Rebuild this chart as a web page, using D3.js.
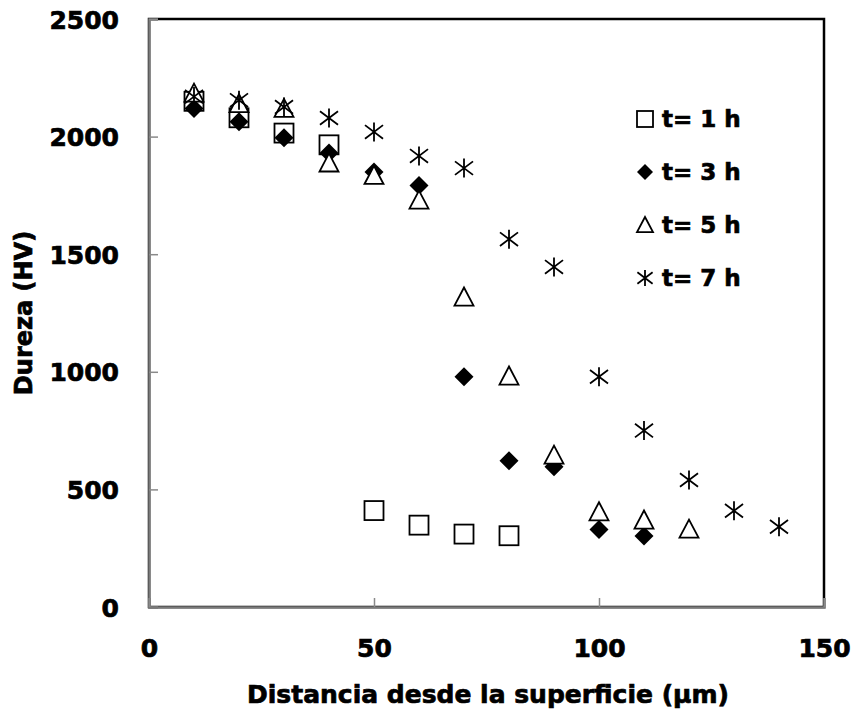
<!DOCTYPE html>
<html>
<head>
<meta charset="utf-8">
<script src="https://cdn.jsdelivr.net/npm/d3@7"></script>
<style>
  body { margin: 0; background: #fff; }
  text { font-family: "DejaVu Sans", sans-serif; font-weight: bold; fill: #000; stroke: #000; stroke-width: 0.7px; }
</style>
</head>
<body>
<svg id="chart" width="854" height="713"></svg>
<script>
// distancia (µm) y dureza (HV) para cada tiempo
const dist1 = [10, 20, 30, 40, 50, 60, 70, 80];
const hv1 = [2150, 2080, 2015, 1965, 410, 348, 310, 303];

const dist3 = [10, 20, 30, 40, 50, 60, 70, 80, 90, 100, 110];
const hv3 = [2120, 2063, 1995, 1930, 1850, 1792, 979, 622, 596, 330, 302];

const dist5 = [10, 20, 30, 40, 50, 60, 70, 80, 90, 100, 110, 120];
const hv5 = [2185, 2140, 2120, 1888, 1835, 1730, 1318, 982, 646, 405, 370, 331];

const dist7 = [10, 20, 30, 40, 50, 60, 70, 80, 90, 100, 110, 120, 130, 140];
const hv7 = [2170, 2155, 2126, 2079, 2020, 1918, 1866, 1564, 1446, 979, 750, 540, 409, 341];

const seriesNames = ['t= 1 h', 't= 3 h', 't= 5 h', 't= 7 h'];
const markerTypes = ['square', 'diamond', 'triangle', 'star'];
const xTicks = [0, 50, 100, 150];
const yTicks = [0, 500, 1000, 1500, 2000, 2500];

const svg = d3.select('#chart');
const margin = { top: 19, right: 30, bottom: 106, left: 149 };
const width = +svg.attr('width');
const height = +svg.attr('height');
const innerWidth = width - margin.left - margin.right;
const innerHeight = height - margin.top - margin.bottom;

const x = d3.scaleLinear().domain([0, 150]).range([0, innerWidth]);
const y = d3.scaleLinear().domain([0, 2500]).range([innerHeight, 0]);

const g = svg.append('g').attr('transform', `translate(${margin.left},${margin.top})`);

// marco del area de trazado
g.append('rect')
  .attr('width', innerWidth).attr('height', innerHeight)
  .attr('fill', 'none').attr('stroke', '#000').attr('stroke-width', 2.5);

// ejes (marcas hacia dentro)
const yAxis = g.append('g')
  .call(d3.axisLeft(y).tickValues(yTicks).tickFormat(d3.format('d')).tickSize(-9).tickPadding(30));
const xAxis = g.append('g')
  .attr('transform', `translate(0,${innerHeight})`)
  .call(d3.axisBottom(x).tickValues(xTicks).tickFormat(d3.format('d')).tickSize(-9).tickPadding(32));

[yAxis, xAxis].forEach(ax => {
  ax.attr('font-size', 25).attr('font-family', '"DejaVu Sans", sans-serif');
  ax.select('.domain').attr('stroke', '#7a7a7a').attr('stroke-width', 2.5);
  ax.selectAll('.tick line').attr('stroke', '#8a8a8a').attr('stroke-width', 1.5);
  ax.selectAll('.tick text').attr('fill', '#000');
});
yAxis.selectAll('.tick text').attr('dy', '0.36em');
xAxis.selectAll('.tick text').attr('dy', '0.71em');

// titulos
svg.append('text')
  .attr('transform', `translate(32,${margin.top + innerHeight / 2}) rotate(-90)`)
  .attr('text-anchor', 'middle')
  .attr('font-size', 24)
  .text('Dureza (HV)');

svg.append('text')
  .attr('x', 488).attr('y', 703)
  .attr('text-anchor', 'middle')
  .attr('font-size', 25)
  .text('Distancia desde la superficie (µm)');

// simbolos
function drawMarker(sel, type, s) {
  const h = s / 2;
  if (type === 'square') {
    sel.append('rect').attr('x', -h).attr('y', -h).attr('width', s).attr('height', s)
      .attr('fill', '#fff').attr('stroke', '#000').attr('stroke-width', 1.8);
  } else if (type === 'diamond') {
    sel.append('path').attr('d', `M0,${-h}L${h},0L0,${h}L${-h},0Z`).attr('fill', '#000');
  } else if (type === 'triangle') {
    sel.append('path').attr('d', `M0,${-h}L${h},${h * 0.9}L${-h},${h * 0.9}Z`)
      .attr('fill', '#fff').attr('stroke', '#000').attr('stroke-width', 1.8);
  } else {
    const a = h * 0.95;
    sel.append('path')
      .attr('d', `M0,${-h}L0,${h}M${-a},${-a * 0.75}L${a},${a * 0.75}M${-a},${a * 0.75}L${a},${-a * 0.75}`)
      .attr('fill', 'none').attr('stroke', '#000').attr('stroke-width', 1.8);
  }
}

const allSeries = [
  { d: dist1, v: hv1 },
  { d: dist3, v: hv3 },
  { d: dist5, v: hv5 },
  { d: dist7, v: hv7 }
];

allSeries.forEach((s, i) => {
  const pts = s.d.map((d, j) => [d, s.v[j]]);
  g.append('g').selectAll('g')
    .data(pts)
    .enter().append('g')
    .attr('transform', p => `translate(${x(p[0])},${y(p[1])})`)
    .each(function () { drawMarker(d3.select(this), markerTypes[i], 19); });
});

// leyenda
const legend = svg.append('g').attr('transform', 'translate(645,119)');
seriesNames.forEach((name, i) => {
  const row = legend.append('g').attr('transform', `translate(0,${i * 53})`);
  drawMarker(row, markerTypes[i], 16);
  row.append('text').attr('x', 17).attr('dy', '0.36em')
    .attr('font-size', 23).text(name);
});
</script>
</body>
</html>
